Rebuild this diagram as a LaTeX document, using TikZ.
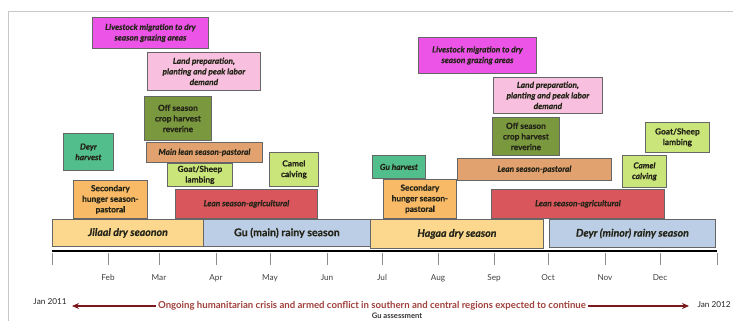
\documentclass[tikz,border=0pt]{standalone}
\usepackage{fontspec}
\setmainfont{Lato}
\usetikzlibrary{arrows.meta}
\definecolor{cMag}{RGB}{236,84,232}
\definecolor{cPink}{RGB}{248,192,222}
\definecolor{cOlive}{RGB}{122,152,62}
\definecolor{cTeal}{RGB}{82,190,140}
\definecolor{cTan}{RGB}{226,162,112}
\definecolor{cLime}{RGB}{202,230,122}
\definecolor{cSec}{RGB}{248,186,102}
\definecolor{cRed}{RGB}{216,86,92}
\definecolor{cOchre}{RGB}{252,216,142}
\definecolor{cBlue}{RGB}{188,206,230}
\definecolor{cTxt}{RGB}{36,36,24}
\definecolor{cArrow}{RGB}{122,24,28}
\definecolor{cCrisis}{RGB}{160,64,60}
\definecolor{cFrame}{RGB}{200,200,200}
\newcommand\mybox[7]{\node[boxs,#6,anchor=north west,minimum width=#4pt-#2pt,minimum height=#5pt-#3pt] (#1) at (#2,#3) {#7};}
\newcommand\hvy{\addfontfeature{FakeBold=0.4}}
\begin{document}
\begin{tikzpicture}[x=1pt,y=-1pt,
  boxs/.style={draw=black!60,line width=0.8pt,inner sep=0.5pt,align=center,text=cTxt,font=\fontsize{8.3}{10.6}\selectfont\bfseries\hvy},
  it/.style={font=\fontsize{8.3}{10.6}\selectfont\bfseries\itshape\hvy},
  big/.style={font=\fontsize{10.6}{12}\selectfont\bfseries\hvy},
  bigit/.style={font=\fontsize{10.6}{12}\selectfont\bfseries\itshape\hvy},
  tick/.style={draw=black!45,line width=0.6pt},
  month/.style={font=\fontsize{8.2}{9}\selectfont,text=black!75},
  crarrow/.style={draw=cArrow,line width=2pt,-{Stealth[length=7pt,width=6pt]}}]
\useasboundingbox (0,0) rectangle (733,321);
\fill[white] (0,0) rectangle (733,321);
\draw[cFrame,line width=0.8pt] (8,321) -- (8,11) -- (733,11);
% boxes left half
\mybox{live1}{92}{17}{208}{48}{fill=cMag,it}{Livestock migration to dry\\season grazing areas}
\mybox{land1}{147}{52}{260}{90}{fill=cPink,it}{Land preparation,\\planting and peak labor\\demand}
\mybox{off1}{144}{96}{211}{140}{fill=cOlive}{Off season\\crop harvest\\reverine}
\mybox{deyrh}{63}{133}{113}{170}{fill=cTeal,it}{Deyr\\harvest}
\mybox{mainlean}{146}{142}{262}{162}{fill=cTan,it}{Main lean season-pastoral}
\mybox{goat1}{167}{163}{232}{186}{fill=cLime}{Goat/Sheep\\lambing}
\mybox{camel1}{269}{152}{318}{186}{fill=cLime}{Camel\\calving}
\mybox{sec1}{73}{180}{147}{218}{fill=cSec}{Secondary\\hunger season-\\pastoral}
\mybox{leanag1}{175}{189}{317}{218}{fill=cRed,it}{Lean season-agricultural}
\mybox{jilaal}{52}{219}{203}{246}{fill=cOchre,bigit}{Jilaal dry seaonon}
\mybox{gu}{203}{219}{370}{246}{fill=cBlue,big}{Gu (main) rainy season}
% boxes right half
\mybox{live2}{418}{37}{536}{73}{fill=cMag,it}{Livestock migration to dry\\season grazing areas}
\mybox{land2}{493}{77}{602}{113}{fill=cPink,it}{Land preparation,\\planting and peak labor\\demand}
\mybox{off2}{492}{117}{559}{155}{fill=cOlive}{Off season\\crop harvest\\reverine}
\mybox{goat2}{645}{122}{709}{152}{fill=cLime}{Goat/Sheep\\lambing}
\mybox{guh}{372}{155}{425}{178}{fill=cTeal,it}{Gu harvest}
\mybox{leanpast}{457}{158}{611}{180}{fill=cTan,it}{Lean season-pastoral}
\mybox{camel2}{622}{155}{666}{187}{fill=cLime,it}{Camel\\calving}
\mybox{sec2}{383}{179}{456}{218}{fill=cSec}{Secondary\\hunger season-\\pastoral}
\mybox{leanag2}{491}{189}{664}{218}{fill=cRed,it}{Lean season-agricultural}
\mybox{hagaa}{370}{219}{543}{248}{fill=cOchre,bigit}{Hagaa dry season}
\mybox{deyr}{549}{219}{715}{247}{fill=cBlue,bigit}{Deyr (minor) rainy season}
% axis
\coordinate (ax0) at (52,251);
\coordinate (ax1) at (717,251);
\draw[black,line width=2.6pt] (ax0) -- (ax1);
\foreach \x in {52,108,159,216,270,327,382,438,494,548,605,660,717}
  \draw[tick] (\x,253) -- (\x,265);
\foreach \x/\m in {108/Feb,159/Mar,216/Apr,270/May,327/Jun,382/Jul,438/Aug,494/Sep,548/Oct,605/Nov,660/Dec}
  \node[month] (m\m) at (\x,278) {\m};
% crisis arrow
\node[font=\fontsize{9.6}{11}\selectfont\bfseries,text=cCrisis,inner sep=2pt] (crisis) at (372,306) {Ongoing humanitarian crisis and armed conflict in southern and central regions expected to continue};
\coordinate (la) at (72,306);
\coordinate (ra) at (689,306);
\draw[crarrow] (crisis.west) -- (la);
\draw[crarrow] (crisis.east) -- (ra);
\node[month,text=black!85] (j11) at (50,302) {Jan 2011};
\node[month,text=black!85,anchor=west] (j12) at (694,305) {Jan 2012};
\node[font=\fontsize{7.6}{8}\selectfont\bfseries,text=black!80] (gua) at (397,316) {Gu assessment};
\end{tikzpicture}
\end{document}
